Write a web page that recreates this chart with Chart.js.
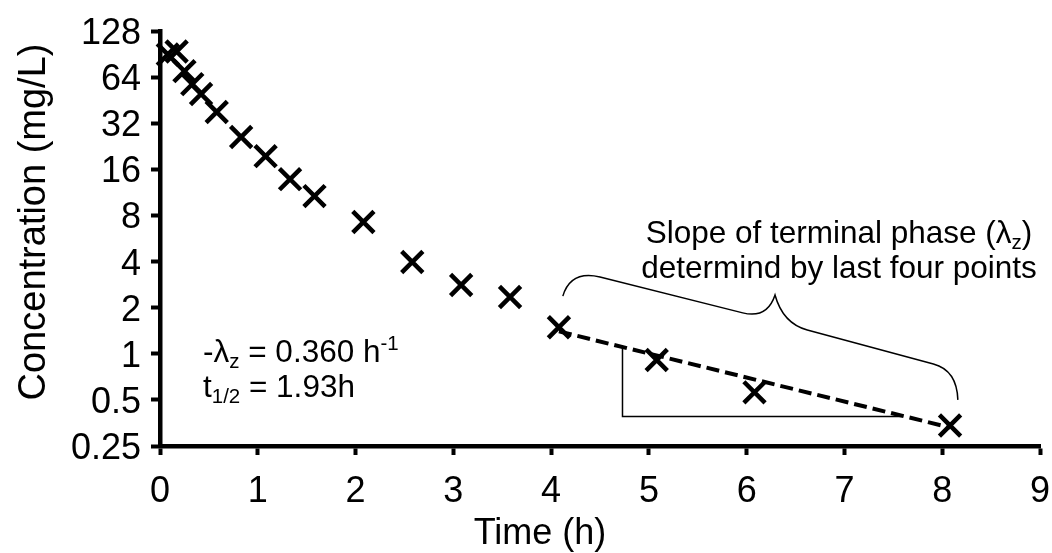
<!DOCTYPE html>
<html>
<head>
<meta charset="utf-8">
<script src="https://cdn.jsdelivr.net/npm/chart.js@4.4.0/dist/chart.umd.min.js"></script>
<style>
  html, body { margin: 0; padding: 0; background: #fff; }
  #wrap { width: 1052px; height: 553px; }
</style>
</head>
<body>
<div id="wrap"><canvas id="myChart" width="1052" height="553"></canvas></div>
<script>
// measured concentrations
var times = [0.08, 0.17, 0.25, 0.33, 0.42, 0.58, 0.83, 1.08, 1.33, 1.58, 2.08, 2.58, 3.08, 3.58, 4.08, 5.08, 6.08, 8.08];
var conc  = [90, 94, 70, 57.6, 49.6, 37.9, 26, 19.5, 13.8, 10.7, 7.25, 3.97, 2.81, 2.35, 1.49, 0.91, 0.56, 0.34];

// terminal phase fit (last four points)
var fitTimes = [4.08, 8.08];
var fitConc  = [1.40, 0.33];

// slope triangle
var triTimes = [4.73, 4.73, 7.6];
var triConc  = [1.1, 0.39, 0.39];

var xTicks = [0, 1, 2, 3, 4, 5, 6, 7, 8, 9];
var yTicks = [0.25, 0.5, 1, 2, 4, 8, 16, 32, 64, 128];

var FONT = 'Liberation Sans, Arial, sans-serif';

function pts(xs, ys) {
    return xs.map((x, i) => ({x: x, y: ys[i]}));
}

// draws text made of runs, some sub/superscript
function drawRuns(ctx, x, y, runs, size, align) {
    var total = 0;
    runs.forEach(r => {
        var s = r.sub || r.sup ? size * 0.65 : size;
        ctx.font = s + 'px ' + FONT;
        r.w = ctx.measureText(r.t).width;
        r.s = s;
        total += r.w;
    });
    var cx = align === 'center' ? x - total / 2 : (align === 'right' ? x - total : x);
    ctx.textBaseline = 'alphabetic';
    ctx.textAlign = 'left';
    runs.forEach(r => {
        ctx.font = r.s + 'px ' + FONT;
        var dy = r.sub ? size * 0.2 : (r.sup ? -size * 0.38 : 0);
        ctx.fillText(r.t, cx, y + dy);
        cx += r.w;
    });
}

var textLayer = {
    id: 'textLayer',
    afterDraw(chart) {
        var ctx = chart.ctx;
        var xs = chart.scales.x, ys = chart.scales.y;
        ctx.save();
        ctx.fillStyle = '#000';

        // tick labels
        xs.ticks.forEach(t => {
            drawRuns(ctx, xs.getPixelForValue(t.value), 502, [{t: String(t.value)}], 36, 'center');
        });
        ys.ticks.forEach(t => {
            drawRuns(ctx, 141, ys.getPixelForValue(t.value) + 13, [{t: String(t.value)}], 36, 'right');
        });

        // axis titles
        drawRuns(ctx, 540, 544, [{t: 'Time (h)'}], 36, 'center');
        ctx.save();
        ctx.translate(45, 222);
        ctx.rotate(-Math.PI / 2);
        ctx.font = '38px ' + FONT;
        ctx.textAlign = 'center';
        ctx.textBaseline = 'alphabetic';
        ctx.fillText('Concentration (mg/L)', 0, 0);
        ctx.restore();
        ctx.restore();
    }
};

var annotations = {
    id: 'annotations',
    afterDatasetsDraw(chart) {
        var ctx = chart.ctx;
        var xs = chart.scales.x, ys = chart.scales.y;
        var P = (t, c) => [xs.getPixelForValue(t), ys.getPixelForValue(c)];

        // curly brace over the terminal phase
        var A = P(4.12, 2.38), c1 = P(4.20, 3.52), B = P(4.50, 3.17);
        var C = P(5.96, 1.85), c2 = P(6.21, 1.69), T = P(6.29, 2.42);
        var c3 = P(6.37, 1.58), D = P(6.62, 1.43);
        var E = P(7.91, 0.857), c4 = P(8.15, 0.78), F = P(8.16, 0.50);
        ctx.save();
        ctx.strokeStyle = '#000';
        ctx.lineWidth = 1.5;
        ctx.beginPath();
        ctx.moveTo(A[0], A[1]);
        ctx.quadraticCurveTo(c1[0], c1[1], B[0], B[1]);
        ctx.lineTo(C[0], C[1]);
        ctx.quadraticCurveTo(c2[0], c2[1], T[0], T[1]);
        ctx.quadraticCurveTo(c3[0], c3[1], D[0], D[1]);
        ctx.lineTo(E[0], E[1]);
        ctx.quadraticCurveTo(c4[0], c4[1], F[0], F[1]);
        ctx.stroke();

        ctx.fillStyle = '#000';
        drawRuns(ctx, 839, 243, [{t: 'Slope of terminal phase (λ'}, {t: 'z', sub: true}, {t: ')'}], 31.5, 'center');
        drawRuns(ctx, 839, 278, [{t: 'determind by last four points'}], 31.5, 'center');
        drawRuns(ctx, 203, 362, [{t: '-λ'}, {t: 'z', sub: true}, {t: ' = 0.360 h'}, {t: '-1', sup: true}], 31.5, 'left');
        drawRuns(ctx, 203, 397, [{t: 't'}, {t: '1/2', sub: true}, {t: ' = 1.93h'}], 31.5, 'left');
        ctx.restore();
    }
};

var ctx = document.getElementById('myChart').getContext('2d');

var config = {
    type: 'scatter',
    data: {
        datasets: [{
            label: 'Concentration',
            data: pts(times, conc),
            showLine: false,
            pointStyle: 'crossRot',
            pointRadius: 15,
            pointBorderWidth: 4.5,
            borderColor: '#000',
            backgroundColor: '#000',
            clip: false
        }, {
            label: 'Fit',
            data: pts(fitTimes, fitConc),
            showLine: true,
            borderColor: '#000',
            borderWidth: 4,
            borderDash: [13, 6],
            pointRadius: 0,
            clip: false
        }, {
            label: 'Triangle',
            data: pts(triTimes, triConc),
            showLine: true,
            borderColor: '#000',
            borderWidth: 1.5,
            pointRadius: 0,
            clip: false
        }]
    },
    options: {
        responsive: false,
        animation: false,
        layout: { autoPadding: false, padding: { left: 0, right: 12, top: 31, bottom: 0 } },
        plugins: {
            legend: { display: false },
            tooltip: { enabled: false }
        },
        scales: {
            x: {
                type: 'linear',
                min: 0,
                max: 9,
                afterBuildTicks: s => { s.ticks = xTicks.map(v => ({value: v})); },
                afterFit: s => { s.height = 107; },
                ticks: { display: false },
                grid: { drawOnChartArea: false, drawTicks: true, tickLength: 9, tickWidth: 4, tickColor: '#000' },
                border: { color: '#000', width: 4.5 }
            },
            y: {
                type: 'logarithmic',
                min: 0.25,
                max: 128,
                afterBuildTicks: s => { s.ticks = yTicks.map(v => ({value: v})); },
                afterFit: s => { s.width = 160; },
                ticks: { display: false },
                grid: { drawOnChartArea: false, drawTicks: true, tickLength: 9, tickWidth: 4, tickColor: '#000' },
                border: { color: '#000', width: 4.5 }
            }
        }
    },
    plugins: [annotations, textLayer]
};

window.myChart = new Chart(ctx, config);
</script>
</body>
</html>
